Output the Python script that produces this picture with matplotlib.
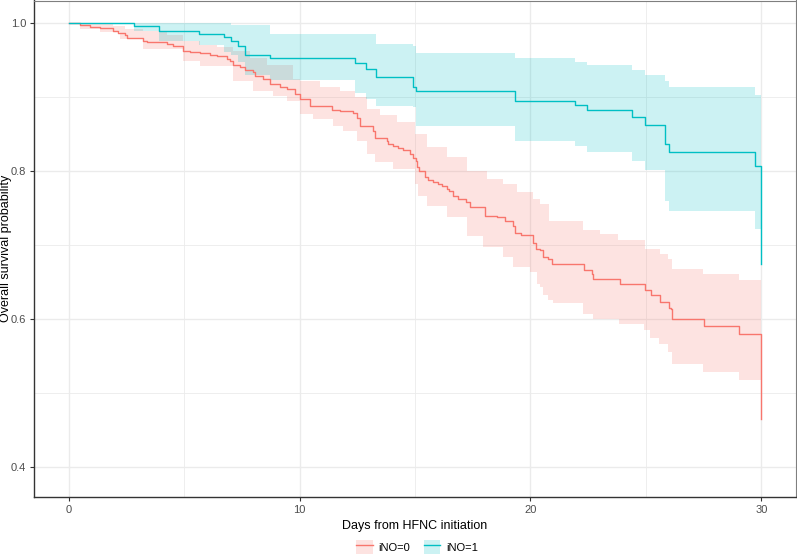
import numpy as np
import matplotlib
matplotlib.use("Agg")
import matplotlib.pyplot as plt
from matplotlib.patches import Patch
from matplotlib.lines import Line2D

plt.rcParams["font.family"] = ["Liberation Sans", "DejaVu Sans"]

# ---------------- data ----------------
groups = ["iNO=0", "iNO=1"]
colors = ["#F8766D", "#00BFC4"]

# iNO=1 (blue) Kaplan-Meier steps with CI
t1 = [0, 2.83, 3.90, 5.65, 6.72, 7.03, 7.34, 7.63, 8.74, 12.41, 12.87, 13.33, 14.9, 15.03,
      19.32, 21.92, 22.44, 24.4, 24.98, 25.84, 25.99, 29.74, 29.98]
s1 = [1, 0.9962, 0.989, 0.9846, 0.9808, 0.9755, 0.9688, 0.957, 0.9534, 0.9456, 0.9379, 0.9267,
      0.9141, 0.9087, 0.8952, 0.8898, 0.8823, 0.8736, 0.8627, 0.8364, 0.8255, 0.8064, 0.675]
up1 = [1, 1, 1, 1, 1, 0.998, 0.998, 0.998, 0.9856, 0.985, 0.985, 0.9713, 0.9685, 0.959,
       0.9528, 0.9478, 0.9434, 0.9366, 0.9303, 0.9213, 0.9141, 0.9029, 0.9029]
lo1 = [1, 0.9887, 0.9752, 0.9698, 0.9613, 0.9563, 0.9474, 0.9303, 0.9226, 0.905, 0.897, 0.8885,
       0.887, 0.8615, 0.8413, 0.8345, 0.8264, 0.8143, 0.8022, 0.7604, 0.7459, 0.7222, 0.7222]

# iNO=0 (red) Kaplan-Meier steps
t0 = [0, 0.49, 0.92, 1.35, 1.93, 2.15, 2.44, 2.51, 3.23, 3.38, 4.24, 4.53, 4.96, 5.25, 5.68,
      6.11, 6.41, 6.84, 6.98, 7.13, 7.41, 7.63, 7.99, 8.07, 8.42, 8.71, 9.15, 9.44, 9.80,
      10.01, 10.45, 11.39, 11.75, 12.32, 12.47, 12.61, 13.19, 13.26, 13.77, 13.82, 14.05,
      14.27, 14.48, 14.77, 14.92, 15.04, 15.09, 15.18, 15.42, 15.57, 15.78, 16.0, 16.15,
      16.39, 16.48, 16.65, 16.87, 17.23, 17.37, 18.02, 18.53, 18.89, 19.25, 19.32, 19.61,
      20.11, 20.26, 20.40, 20.55, 20.76, 20.95, 22.32, 22.68, 22.71, 23.87, 24.96, 25.21,
      25.6, 25.99, 26.07, 26.13, 27.5, 29.05, 29.98]
s0 = [1, 0.9977, 0.9950, 0.9933, 0.9896, 0.9865, 0.9838, 0.9798, 0.9761, 0.9738, 0.9717,
      0.9684, 0.9626, 0.9613, 0.9595, 0.9568, 0.9550, 0.9514, 0.9482, 0.9438, 0.9401, 0.9366,
      0.9334, 0.9289, 0.9245, 0.9177, 0.9131, 0.9110, 0.9042, 0.8975, 0.8885, 0.8827, 0.8808,
      0.8781, 0.8719, 0.8615, 0.8548, 0.8449, 0.8406, 0.8368, 0.8345, 0.8314, 0.8285, 0.8233,
      0.8179, 0.8143, 0.8062, 0.8008, 0.7918, 0.7883, 0.7860, 0.7829, 0.7806, 0.7761, 0.7729,
      0.7671, 0.7626, 0.7581, 0.7513, 0.7401, 0.7378, 0.7334, 0.7266, 0.7163, 0.7132, 0.7028,
      0.6952, 0.6929, 0.6839, 0.6817, 0.6750, 0.6659, 0.6615, 0.6548, 0.6480, 0.6399, 0.6322,
      0.6232, 0.6156, 0.6143, 0.5999, 0.5908, 0.5806, 0.4660]

# iNO=0 confidence band (upper / lower edges, step starts)
up0_t = [0, 1.35, 1.92, 2.44, 3.22, 4.26, 4.95, 5.68, 6.42, 7.11, 7.85, 8.58, 9.71, 10.01,
         10.88, 11.75, 12.39, 12.91, 13.48, 14.21, 14.99, 15.51, 16.38, 17.24, 18.11, 18.80,
         19.41, 20.1, 20.4, 20.81, 22.26, 23.0, 23.78, 24.95, 25.6, 25.94, 26.12, 27.46, 29.02,
         29.98]
up0 = [1, 0.9991, 0.9964, 0.9922, 0.9895, 0.9841, 0.9760, 0.9707, 0.9680, 0.9626, 0.9532,
       0.9437, 0.9248, 0.9221, 0.9131, 0.9087, 0.8996, 0.8844, 0.8763, 0.8669, 0.8507, 0.8323,
       0.8188, 0.8008, 0.7896, 0.7829, 0.7717, 0.7627, 0.7560, 0.7334, 0.7199, 0.7154, 0.7073,
       0.6952, 0.6885, 0.6817, 0.6682, 0.6606, 0.6534, 0.6534]
lo0_t = [0, 0.49, 1.35, 2.22, 3.22, 4.95, 5.68, 7.11, 7.98, 8.84, 9.45, 10.01, 10.58, 11.44,
         11.87, 12.48, 12.91, 13.26, 14.04, 14.99, 15.12, 15.51, 16.38, 17.24, 17.94, 18.80,
         19.23, 19.97, 20.27, 20.40, 20.53, 20.75, 20.97, 22.26, 22.70, 23.82, 24.9, 25.16,
         25.55, 25.94, 26.12, 27.46, 29.02, 29.98]
lo0 = [1, 0.9919, 0.9873, 0.9784, 0.9654, 0.9492, 0.9424, 0.9222, 0.9087, 0.9019, 0.8953,
       0.8772, 0.8705, 0.8615, 0.8547, 0.8413, 0.8237, 0.8120, 0.8030, 0.7828, 0.7670, 0.7535,
       0.7377, 0.7131, 0.6974, 0.6839, 0.6704, 0.6637, 0.6480, 0.6434, 0.6322, 0.6255, 0.6218,
       0.6075, 0.6008, 0.5930, 0.5850, 0.5751, 0.5670, 0.5558, 0.5400, 0.5289, 0.5176, 0.5176]

x_ticks = [0, 10, 20, 30]
y_ticks = [0.4, 0.6, 0.8, 1.0]
x_label = "Days from HFNC initiation"
y_label = "Overall survival probability"

# ---------------- figure ----------------
W, H = 797, 559
fig = plt.figure(figsize=(W / 100, H / 100), dpi=100)
ax = fig.add_axes([34 / W, 62 / H, 762 / W, 496.5 / H])

grid_c = "#EBEBEB"
for v in [5, 15, 25]:
    ax.axvline(v, color=grid_c, lw=0.6, zorder=0)
for v in [0.5, 0.7, 0.9]:
    ax.axhline(v, color=grid_c, lw=0.6, zorder=0)
for v in x_ticks:
    ax.axvline(v, color=grid_c, lw=1.0, zorder=0)
for v in y_ticks:
    ax.axhline(v, color=grid_c, lw=1.0, zorder=0)

alpha = 0.2

# red band: merge the two step grids
t_all = np.union1d(up0_t, lo0_t)
iu = np.searchsorted(up0_t, t_all, side="right") - 1
il = np.searchsorted(lo0_t, t_all, side="right") - 1
ax.fill_between(t_all, np.array(lo0)[il], np.array(up0)[iu], step="post",
                color=colors[0], alpha=alpha, lw=0, zorder=1)
ax.fill_between(t1, lo1, up1, step="post", color=colors[1], alpha=alpha, lw=0, zorder=1)

ax.step(t0, s0, where="post", color=colors[0], lw=1.0, zorder=3)
ax.step(t1, s1, where="post", color=colors[1], lw=1.0, zorder=3)

ax.set_xlim(-1.5, 31.5)
ax.set_ylim(0.36, 1.0305)
ax.set_xticks(x_ticks)
ax.set_xticklabels([str(v) for v in x_ticks])
ax.set_yticks(y_ticks)
ax.set_yticklabels(["%.1f" % v for v in y_ticks])
ax.tick_params(axis="both", colors="#333333", labelcolor="#4D4D4D", labelsize=8,
               length=3, width=0.8, pad=2.5)

for side in ["left", "bottom"]:
    ax.spines[side].set_color("#333333")
    ax.spines[side].set_linewidth(1.0)
for side in ["top", "right"]:
    ax.spines[side].set_color("#7F7F7F")
    ax.spines[side].set_linewidth(0.8)

ax.set_xlabel(x_label, fontsize=9, color="black", labelpad=4)
ax.set_ylabel(y_label, fontsize=9, color="black", va="center")
ax.yaxis.set_label_coords(-27.5 / 762, 0.5)

handles = [(Patch(facecolor=c, alpha=alpha, edgecolor="none"), Line2D([], [], color=c, lw=1.0))
           for c in colors]
fig.legend(handles, groups, loc="center", bbox_to_anchor=(417 / W, 1 - 547 / H), ncol=2,
           frameon=False, fontsize=8, handlelength=1.5, handleheight=1.5, columnspacing=1.2,
           handletextpad=0.5)

fig.savefig("out.png", dpi=100)
